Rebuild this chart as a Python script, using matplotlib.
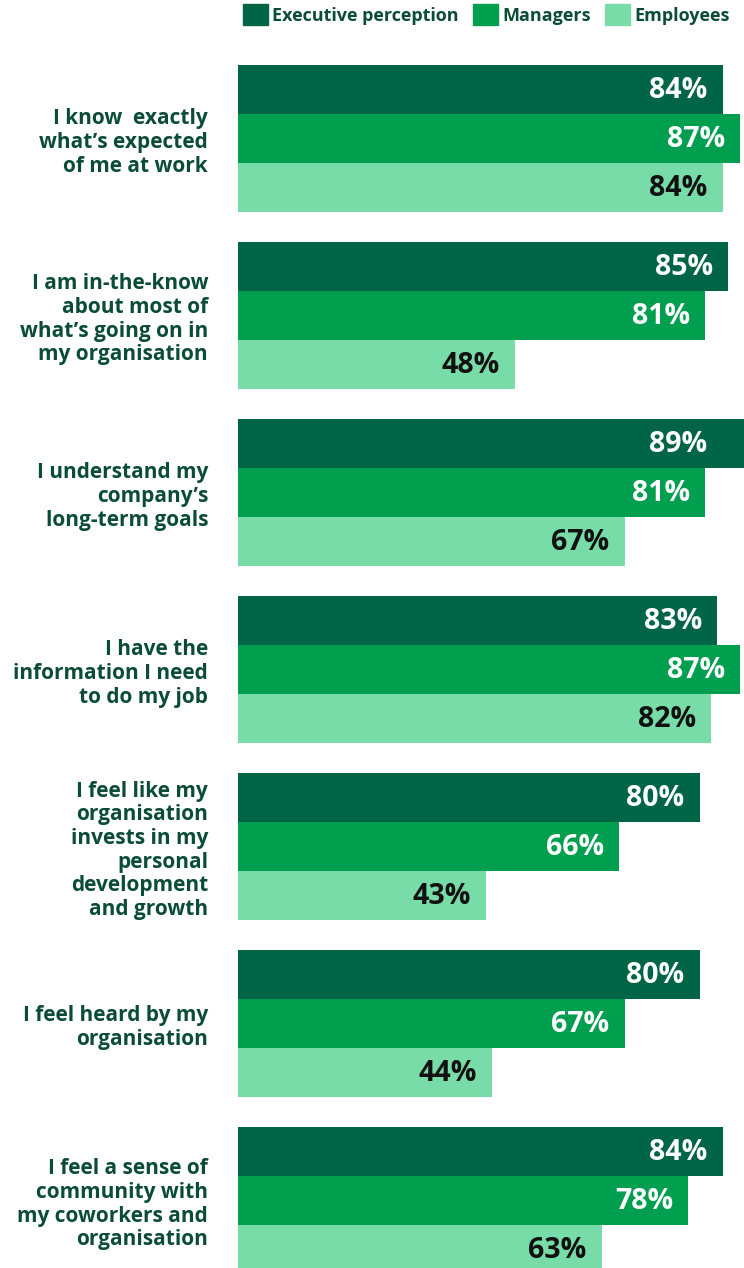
import matplotlib.pyplot as plt
from matplotlib.patches import Patch
import numpy as np

# datos
preguntas = [
    "I know  exactly\nwhat\u2019s expected\nof me at work",
    "I am in-the-know\nabout most of\nwhat\u2019s going on in\nmy organisation",
    "I understand my\ncompany\u2019s\nlong-term goals",
    "I have the\ninformation I need\nto do my job",
    "I feel like my\norganisation\ninvests in my\npersonal\ndevelopment\nand growth",
    "I feel heard by my\norganisation",
    "I feel a sense of\ncommunity with\nmy coworkers and\norganisation",
]
series = ["Executive perception", "Managers", "Employees"]
ejecutivos = [84, 85, 89, 83, 80, 80, 84]
managers = [87, 81, 81, 87, 66, 67, 78]
empleados = [84, 48, 67, 82, 43, 44, 63]

colores = ["#006446", "#009E4F", "#78DCA8"]
color_texto = ["white", "white", "#111111"]
verde_texto = "#0B4D34"

plt.rcParams['font.family'] = ['Open Sans', 'DejaVu Sans']

W, H = 744, 1268
fig = plt.figure(figsize=(W / 100, H / 100), dpi=100)
# eje desde x=238 px hasta el borde derecho, cubre todo el alto
ax = fig.add_axes([238 / W, 0, 1 - 238 / W, 1])

h = 1.0            # alto de cada barra (49 px)
paso = 177 / 49    # distancia entre grupos
px = 49            # pixeles por unidad en y
centro0 = 138.5    # centro de la barra del medio del primer grupo en px
xmax = (W - 238) / 5.77

y = np.arange(len(preguntas)) * paso
valores = [ejecutivos, managers, empleados]
for k, vals in enumerate(valores):
    yy = y + (k - 1) * h
    bars = ax.barh(yy, vals, height=h, color=colores[k], label=series[k])
    for b, v in zip(bars, vals):
        # si la barra se sale del borde, la etiqueta queda mas adentro
        if v > xmax:
            xt, off = xmax, -37
        else:
            xt, off = v, -15
        ax.annotate(f"{v}%", xy=(xt, b.get_y() + b.get_height() / 2),
                    xytext=(off * 72 / 100, -1), textcoords="offset points",
                    ha="right", va="center", fontsize=20.5, fontweight="bold",
                    color=color_texto[k], annotation_clip=False)

ax.set_xlim(0, xmax)
ax.set_ylim((H - centro0) / px, -centro0 / px)

ax.set_yticks(y)
ax.set_yticklabels(preguntas, fontsize=15, fontweight="bold",
                   color=verde_texto, linespacing=1.17)
for t in ax.get_yticklabels():
    t.set_horizontalalignment("right")
    t.set_multialignment("right")
ax.tick_params(axis="y", length=0, pad=30 * 72 / 100)
ax.set_xticks([])
for s in ax.spines.values():
    s.set_visible(False)

handles = [Patch(color=c) for c in colores]
leg = fig.legend(handles, series, loc="upper right", ncol=3,
                 bbox_to_anchor=(0.995, 1.0055), frameon=False,
                 handlelength=1.35, handleheight=1.45, handletextpad=0.25,
                 columnspacing=0.8, fontsize=13, borderaxespad=0.2)
for t in leg.get_texts():
    t.set_color(verde_texto)
    t.set_fontweight("bold")

fig.savefig("out.png", dpi=100)
